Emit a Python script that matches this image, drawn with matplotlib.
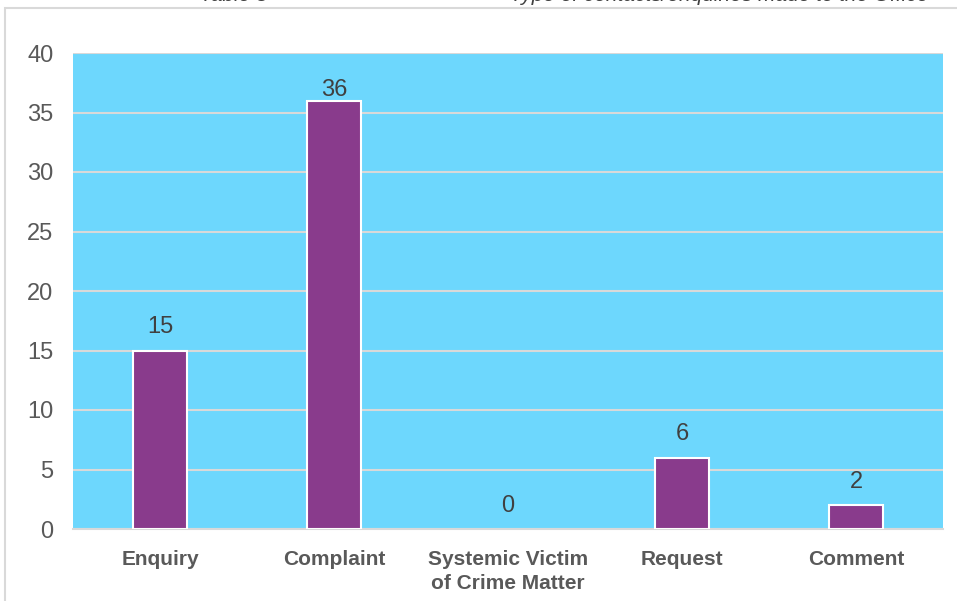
import matplotlib.pyplot as plt
from matplotlib.patches import Rectangle

# Data
categories = ['Enquiry', 'Complaint', 'Systemic Victim\nof Crime Matter', 'Request', 'Comment']
counts = [15, 36, 0, 6, 2]
y_ticks = [0, 5, 10, 15, 20, 25, 30, 35, 40]

plt.rcParams['font.family'] = ['Liberation Sans', 'DejaVu Sans']

fig = plt.figure(figsize=(9.57, 6.01), dpi=100)
W, H = 957, 601
ax = fig.add_axes([73 / W, 1 - 529 / H, 870 / W, (529 - 53) / H])

# Outer chart border (only left/top edges visible in the crop)
fig.patches.append(Rectangle((5 / W, -0.1), 1.2, (1 - 8 / H) + 0.1, transform=fig.transFigure,
                             fill=False, edgecolor='#d9d9d9', linewidth=1.5))

# Caption above the chart, cut off by the top edge as in the source
fig.text(200 / W, 1 - 1 / H, 'Table 5', fontsize=15, style='italic', color='#404040',
         ha='left', va='baseline')
fig.text(510 / W, 1 - 1 / H, 'Type of contacts/enquiries made to the Office', fontsize=15,
         style='italic', color='#404040', ha='left', va='baseline')

ax.set_facecolor('#6dd7fd')
x = range(len(categories))
bars = ax.bar(x, counts, width=0.31, color='#893b8c', edgecolor='white',
              linewidth=[1.5 if v else 0 for v in counts], zorder=3)

for xi, v in zip(x, counts):
    off = 0 if v > 30 else 9
    ax.annotate(str(v), (xi, v), xytext=(0, off), textcoords='offset points',
                ha='center', va='bottom', fontsize=17, color='#404040', zorder=4)

ax.set_xlim(-0.5, len(categories) - 0.5)
ax.set_ylim(0, 40)
ax.set_yticks(y_ticks)
ax.set_xticks(list(x))
ax.set_xticklabels(categories, fontsize=15, fontweight='bold', color='#595959',
                   family=['Liberation Sans Narrow', 'Liberation Sans', 'DejaVu Sans'],
                   linespacing=1.35)
ax.tick_params(axis='y', labelsize=17, labelcolor='#595959', length=0, pad=14)
ax.tick_params(axis='x', length=0, pad=15)
ax.yaxis.grid(True, color='#d9d9d9', linewidth=1.5, zorder=1)
ax.set_axisbelow(True)
for s in ['left', 'right', 'top']:
    ax.spines[s].set_visible(False)
ax.spines['bottom'].set_color('#d9d9d9')
ax.spines['bottom'].set_linewidth(1.5)

fig.savefig('out.png', dpi=100)
